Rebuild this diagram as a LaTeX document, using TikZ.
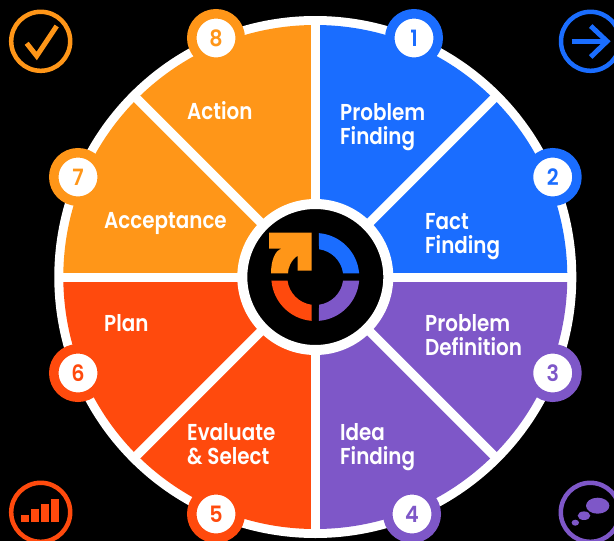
\documentclass[tikz,border=0pt]{standalone}
\usepackage{fontspec}
\setmainfont{Poppins}
\newfontfamily\labfont[FakeStretch=0.865]{Poppins SemiBold}
\newfontfamily\numfont[FakeStretch=0.92]{Poppins SemiBold}
\usetikzlibrary{calc}
\definecolor{cblue}{HTML}{1A6DFF}
\definecolor{cpurple}{HTML}{7E57C8}
\definecolor{cred}{HTML}{FF4A0D}
\definecolor{corange}{HTML}{FF9618}
\tikzset{
  x=1pt,y=1pt,
  lab/.style={text=white,font=\labfont\fontsize{23}{24}\selectfont,anchor=base west,align=left,inner sep=0pt},
  badge/.style={circle,draw=#1,line width=9.5pt,fill=white,minimum size=48.5pt,inner sep=0pt,text=#1,font=\numfont\fontsize{22.5}{24}\selectfont},
  ring/.style={draw=#1,line width=4.5pt,circle,minimum size=59pt,inner sep=0pt},
  divider/.style={draw=white,line width=9pt},
  glyph/.style={draw=#1,line width=5pt,miter limit=10}
}
\newcommand{\quadfill}[3]{\fill[#1] (c) -- ++(#2:252) arc[start angle=#2,end angle=#3,radius=252] -- cycle;}
\newcommand{\iconarc}[3]{\fill[#1] ($(c)+(#2+4.8:44)$) arc[start angle=#2+4.8,end angle=#3-4.8,radius=44] -- ($(c)+(#3-7.6:28)$) arc[start angle=#3-7.6,end angle=#2+7.6,radius=28] -- cycle;}
\begin{document}
\begin{tikzpicture}
\useasboundingbox (0,0) rectangle (614,-541);
\fill[black] (0,0) rectangle (614,-541);
\coordinate (c) at (315.3,-277);
% wheel
\fill[white] (c) circle[radius=261];
\quadfill{cblue}{0}{90}
\quadfill{cpurple}{-90}{0}
\quadfill{cred}{180}{270}
\quadfill{corange}{90}{180}
\foreach \a in {0,45,...,315}{\draw[divider] (c) -- ++(\a:256);}
\node[circle,fill=black,draw=white,line width=10pt,minimum size=146pt,inner sep=0pt] (hub) at (c) {};
% centre icon
\iconarc{cblue}{0}{90}
\iconarc{cpurple}{-90}{0}
\iconarc{cred}{180}{270}
\fill[corange] (269,-232.7) -- (311.7,-232.7) -- (311.7,-270.7) -- (297.7,-270.7) -- (297.7,-255.7)
  .. controls (291,-260) and (288,-268) .. (288,-273.3) -- (271,-273.3)
  .. controls (271,-261) and (275,-250) .. (281.7,-248.7) -- (269,-248.7) -- cycle;
% badges
\node[badge=cblue] (n1) at (414,-38) {1};
\node[badge=cblue] (n2) at (552.7,-177) {2};
\node[badge=cpurple] (n3) at (552.7,-373) {3};
\node[badge=cpurple] (n4) at (412,-514) {4};
\node[badge=cred] (n5) at (216,-514) {5};
\node[badge=cred] (n6) at (78,-373) {6};
\node[badge=corange] (n7) at (78,-177) {7};
\node[badge=corange] (n8) at (216,-38) {8};
% labels
\node[lab] (t1) at (340,-144) {Problem\\Finding};
\node[lab] (t2) at (425,-253) {Fact\\Finding};
\node[lab] (t3) at (425,-355.7) {Problem\\Definition};
\node[lab] (t4) at (340,-464.7) {Idea\\Finding};
\node[lab] (t5) at (187,-464.7) {Evaluate\\\& Select};
\node[lab] (t6) at (104,-331.7) {Plan};
\node[lab] (t7) at (104,-228.7) {Acceptance};
\node[lab] (t8) at (187,-119.7) {Action};
% corner icons
\node[ring=corange] (i1) at (40.7,-41.3) {};
\draw[glyph=corange] (26.7,-43.3) -- (36.7,-56) -- (56.7,-26);
\node[ring=cblue] (i2) at (590.5,-41.3) {};
\draw[glyph=cblue] (571.7,-41.3) -- (606,-41.3);
\draw[glyph=cblue] (590.7,-26) -- (607,-41.3) -- (590.7,-57);
\node[ring=cred] (i3) at (40.7,-512.3) {};
\fill[cred] (21.3,-522) rectangle (29,-514.7);
\fill[cred] (31.3,-522) rectangle (39,-509.3);
\fill[cred] (41.3,-522) rectangle (49,-504);
\fill[cred] (51.3,-522) rectangle (59,-498.7);
\node[ring=cpurple] (i4) at (590.3,-512.3) {};
\fill[cpurple] (597.7,-505.7) ellipse[x radius=11.7,y radius=8];
\fill[cpurple] (584,-515.7) ellipse[x radius=6.3,y radius=4.3];
\fill[cpurple] (575.3,-522.7) ellipse[x radius=3.7,y radius=3];
\end{tikzpicture}
\end{document}
